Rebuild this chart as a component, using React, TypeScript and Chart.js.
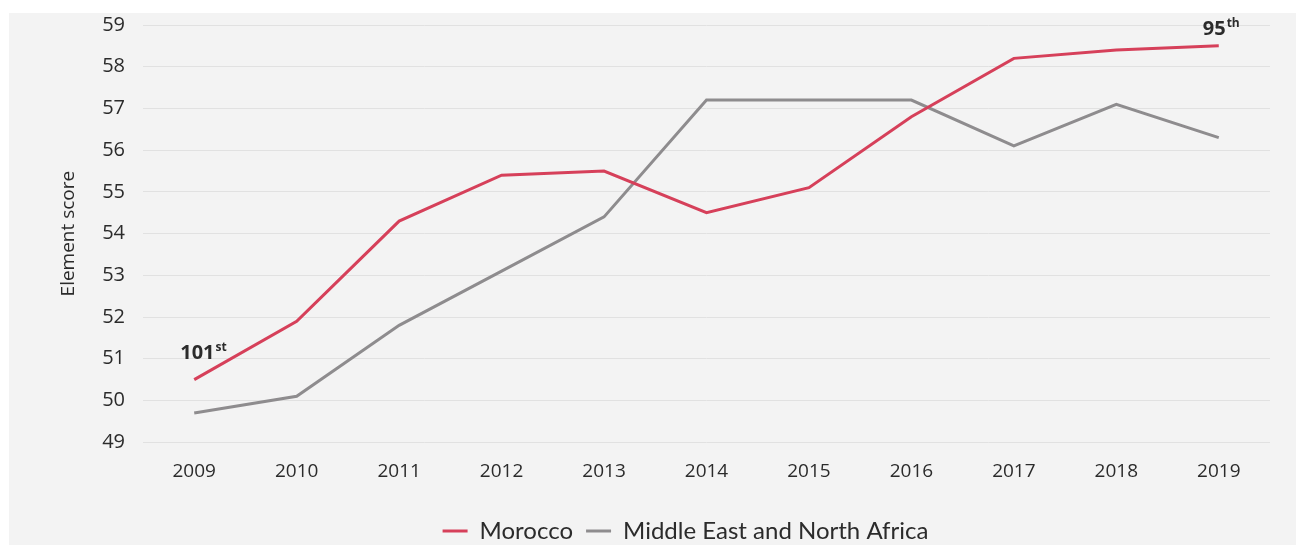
import React, { useEffect, useRef } from 'react';
import { Chart, registerables } from 'chart.js';

Chart.register(...registerables);

const years = ['2009', '2010', '2011', '2012', '2013', '2014', '2015', '2016', '2017', '2018', '2019'];
const morocco = [50.5, 51.9, 54.3, 55.4, 55.5, 54.5, 55.1, 56.8, 58.2, 58.4, 58.5];
const mena = [49.7, 50.1, 51.8, 53.1, 54.4, 57.2, 57.2, 57.2, 56.1, 57.1, 56.3];
const seriesNames = ['Morocco', 'Middle East and North Africa'];
const rankIndex = [0, 10];
const rankMain = ['101', '95'];
const rankSuffix = ['st', 'th'];

const RED = '#d6405a';
const GREY = '#8e8c8e';
const TEXT = '#2b2b2b';
const FONT = "'Open Sans', 'Noto Sans', sans-serif";
const LEGEND_FONT = "Lato, 'Open Sans', sans-serif";

const rankPlugin = {
  id: 'rankPlugin',
  afterDatasetsDraw(chart: any) {
    const meta = chart.getDatasetMeta(0);
    const ctx = chart.ctx;
    ctx.save();
    ctx.fillStyle = TEXT;
    ctx.textBaseline = 'alphabetic';
    ctx.textAlign = 'left';
    const offsets = [
      { dx: -14, dy: -21 },
      { dx: -16, dy: -11 },
    ];
    rankIndex.forEach((idx, i) => {
      const pt = meta.data[idx];
      if (!pt) return;
      const x = pt.x + offsets[i].dx;
      const y = pt.y + offsets[i].dy;
      ctx.font = `bold 20px ${FONT}`;
      ctx.fillText(rankMain[i], x, y);
      const w = ctx.measureText(rankMain[i]).width;
      ctx.font = `bold 12px ${FONT}`;
      ctx.fillText(rankSuffix[i], x + w + 1, y - 8);
    });
    ctx.restore();
  },
};

const legendShift = {
  id: 'legendShift',
  afterLayout(chart: any) {
    const lg = chart.legend;
    if (!lg) return;
    const dx = 24;
    const dy = 8;
    lg.left += dx;
    lg.right += dx;
    lg.top += dy;
    lg.bottom += dy;
  },
};

export default function App() {
  const ref = useRef<HTMLCanvasElement | null>(null);
  useEffect(() => {
    if (!ref.current) return;
    const chart = new Chart(ref.current, {
      type: 'line',
      data: {
        labels: years,
        datasets: [
          {
            label: seriesNames[0],
            data: morocco,
            borderColor: RED,
            backgroundColor: RED,
            borderWidth: 3,
            pointRadius: 0,
            tension: 0,
          },
          {
            label: seriesNames[1],
            data: mena,
            borderColor: GREY,
            backgroundColor: GREY,
            borderWidth: 3,
            pointRadius: 0,
            tension: 0,
          },
        ],
      },
      options: {
        animation: false,
        responsive: true,
        maintainAspectRatio: false,
        layout: { padding: { left: 44, right: 26, top: 12, bottom: 0 } },
        plugins: {
          tooltip: { enabled: false },
          legend: {
            position: 'bottom',
            labels: {
              color: TEXT,
              font: { family: LEGEND_FONT, size: 24 },
              boxWidth: 25,
              boxHeight: 3,
              padding: 13,
              generateLabels(chart: any) {
                return chart.data.datasets.map((ds: any, i: number) => ({
                  text: ds.label,
                  fillStyle: ds.borderColor,
                  strokeStyle: ds.borderColor,
                  lineWidth: 0,
                  hidden: false,
                  datasetIndex: i,
                  fontColor: TEXT,
                }));
              },
            },
          },
        },
        scales: {
          x: {
            offset: true,
            grid: { display: false, drawTicks: false },
            border: { display: false },
            ticks: {
              color: TEXT,
              font: { family: FONT, size: 19 },
              padding: 18,
              maxRotation: 0,
              autoSkip: false,
            },
            afterFit(scale: any) {
              scale.height -= 3;
            },
          },
          y: {
            min: 49,
            max: 59,
            grid: { color: '#e1e1e1', lineWidth: 1, drawTicks: false },
            border: { display: false },
            ticks: {
              stepSize: 1,
              color: TEXT,
              font: { family: FONT, size: 20 },
              padding: 18,
            },
            title: {
              display: true,
              text: 'Element score',
              color: TEXT,
              font: { family: FONT, size: 19 },
            },
            afterFit(scale: any) {
              scale.width = 90;
              scale.paddingTop = 0;
              scale.paddingBottom = 0;
            },
          },
        },
      },
      plugins: [rankPlugin, legendShift],
    });
    return () => chart.destroy();
  }, []);

  return (
    <div
      style={{
        position: 'absolute',
        left: 9,
        top: 13,
        width: 1287,
        height: 532,
        background: '#f3f3f3',
      }}
    >
      <canvas ref={ref} />
    </div>
  );
}
